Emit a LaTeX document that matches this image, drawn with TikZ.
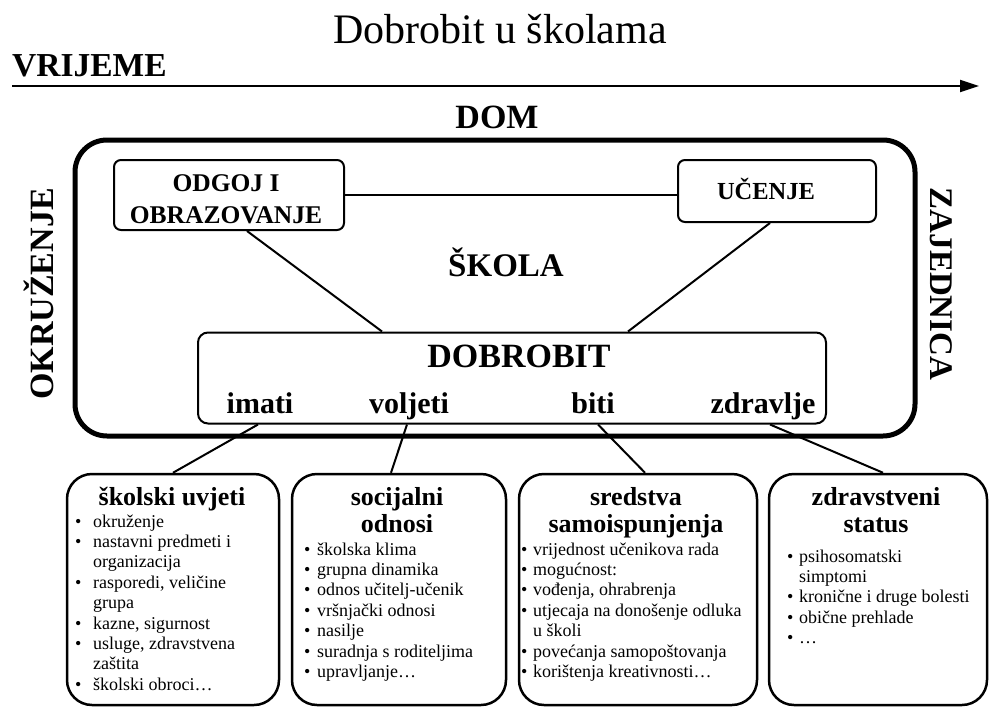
\documentclass[tikz,border=0pt]{standalone}
\usepackage{fontspec}
\setmainfont{Liberation Serif}
\usetikzlibrary{arrows.meta}
\newcommand\fsz[2]{\fontsize{#1}{#2}\selectfont}
\newlength\bw
\newcommand\bul{\makebox[\bw][l]{\textbullet}}
\newcommand\ind{\hspace*{\bw}}
\tikzset{
  bigframe/.style={draw, line width=5pt, rounded corners=32pt, inner sep=0pt},
  smallbox/.style={draw, line width=2pt, rounded corners=7pt, inner sep=0pt},
  dobbox/.style={draw, line width=2pt, rounded corners=10pt, inner sep=0pt},
  bottombox/.style={draw, line width=2.5pt, rounded corners=25pt, inner sep=0pt},
  conn/.style={line width=2pt},
  lbl/.style={inner sep=0pt, anchor=base},
  head/.style={lbl, font=\bfseries\fsz{26}{27}},
  items/.style={lbl, anchor=base west, font=\fsz{18}{20.4}},
  word/.style={lbl, font=\bfseries\fsz{30}{30}},
}
\begin{document}
\begin{tikzpicture}[x=1pt,y=-1pt]
\useasboundingbox (0,0) rectangle (991,707);
% title and time axis
\node[lbl, font=\fsz{42}{42}] (title) at (500,43) {Dobrobit u školama};
\node[lbl, anchor=base west, font=\bfseries\fsz{33.5}{33.5}] (time) at (12,76) {VRIJEME};
\coordinate (arrS) at (12,86);
\coordinate (arrE) at (979,86);
\draw[line width=2pt, -{Triangle[length=19pt,width=12pt]}] (arrS) -- (arrE);
\node[lbl, font=\bfseries\fsz{34}{34}] (dom) at (497,128) {DOM};
% big frame
\node[bigframe, minimum width=840pt, minimum height=296pt] (frame) at (495,288) {};
\node[lbl, rotate=90, font=\bfseries\fsz{34}{34}] (okr) at (53,294) {OKRUŽENJE};
\node[lbl, rotate=-90, font=\bfseries\fsz{33}{33}] (zaj) at (930,284) {ZAJEDNICA};
% school boxes
\node[smallbox, minimum width=230pt, minimum height=70pt] (odgoj) at (229,195) {};
\node[lbl, font=\bfseries\fsz{25.5}{32}] (odgojT) at (226,191) {\begin{tabular}[t]{@{}c@{}}ODGOJ I\\OBRAZOVANJE\end{tabular}};
\node[smallbox, minimum width=198pt, minimum height=62pt] (ucenje) at (777,191) {};
\node[lbl, font=\bfseries\fsz{24.5}{24.5}] (ucenjeT) at (766,199) {UČENJE};
\node[lbl, font=\bfseries\fsz{33}{33}] (skola) at (506,276) {ŠKOLA};
\node[dobbox, minimum width=628pt, minimum height=91pt] (dob) at (512,378) {};
\node[lbl, font=\bfseries\fsz{34}{34}] (dobT) at (519,367) {DOBROBIT};
\node[word] (imati) at (260,413) {imati};
\node[word] (voljeti) at (409,413) {voljeti};
\node[word] (biti) at (593,413) {biti};
\node[word] (zdravlje) at (763,413) {zdravlje};
\draw[conn] (odgoj.east) -- (odgoj.east -| ucenje.west);
\draw[conn] ([xshift=18pt]odgoj.south) -- ([xshift=-130pt]dob.north);
\draw[conn] ([xshift=-7pt]ucenje.south) -- ([xshift=116pt]dob.north);
% bottom boxes
\node[bottombox, minimum width=212pt, minimum height=231pt] (b1) at (173,589.5) {};
\node[bottombox, minimum width=214pt, minimum height=231pt] (b2) at (399,589.5) {};
\node[bottombox, minimum width=238pt, minimum height=231pt] (b3) at (638,589.5) {};
\node[bottombox, minimum width=218pt, minimum height=231pt] (b4) at (878,589.5) {};
\draw[conn] ([xshift=-254pt]dob.south) -- (b1.north);
\draw[conn] ([xshift=-105pt]dob.south) -- ([xshift=-8pt]b2.north);
\draw[conn] ([xshift=86pt]dob.south) -- ([xshift=7pt]b3.north);
\draw[conn] ([xshift=258pt]dob.south) -- ([xshift=5pt]b4.north);
% headings
\node[head] (h1) at (172,505) {školski uvjeti};
\node[head] (h2) at (397,505) {\begin{tabular}[t]{@{}c@{}}socijalni\\odnosi\end{tabular}};
\node[head] (h3) at (636,505) {\begin{tabular}[t]{@{}c@{}}sredstva\\samoispunjenja\end{tabular}};
\node[head] (h4) at (876,505) {\begin{tabular}[t]{@{}c@{}}zdravstveni\\status\end{tabular}};
% lists
\node[items] (l1) at (75,527) {\setlength\bw{18pt}\begin{tabular}[t]{@{}l@{}}
\bul okruženje\\
\bul nastavni predmeti i\\
\ind organizacija\\
\bul rasporedi, veličine\\
\ind grupa\\
\bul kazne, sigurnost\\
\bul usluge, zdravstvena\\
\ind zaštita\\
\bul školski obroci…\end{tabular}};
\node[items] (l2) at (304,555) {\setlength\bw{13pt}\begin{tabular}[t]{@{}l@{}}
\bul školska klima\\
\bul grupna dinamika\\
\bul odnos učitelj-učenik\\
\bul vršnjački odnosi\\
\bul nasilje\\
\bul suradnja s roditeljima\\
\bul upravljanje…\end{tabular}};
\node[items] (l3) at (521,555) {\setlength\bw{12pt}\begin{tabular}[t]{@{}l@{}}
\bul vrijednost učenikova rada\\
\bul mogućnost:\\
\bul vođenja, ohrabrenja\\
\bul utjecaja na donošenje odluka\\
\ind u školi\\
\bul povećanja samopoštovanja\\
\bul korištenja kreativnosti…\end{tabular}};
\node[items] (l4) at (787,562) {\setlength\bw{12pt}\begin{tabular}[t]{@{}l@{}}
\bul psihosomatski\\
\ind simptomi\\
\bul kronične i druge bolesti\\
\bul obične prehlade\\
\bul …\end{tabular}};
\end{tikzpicture}
\end{document}
